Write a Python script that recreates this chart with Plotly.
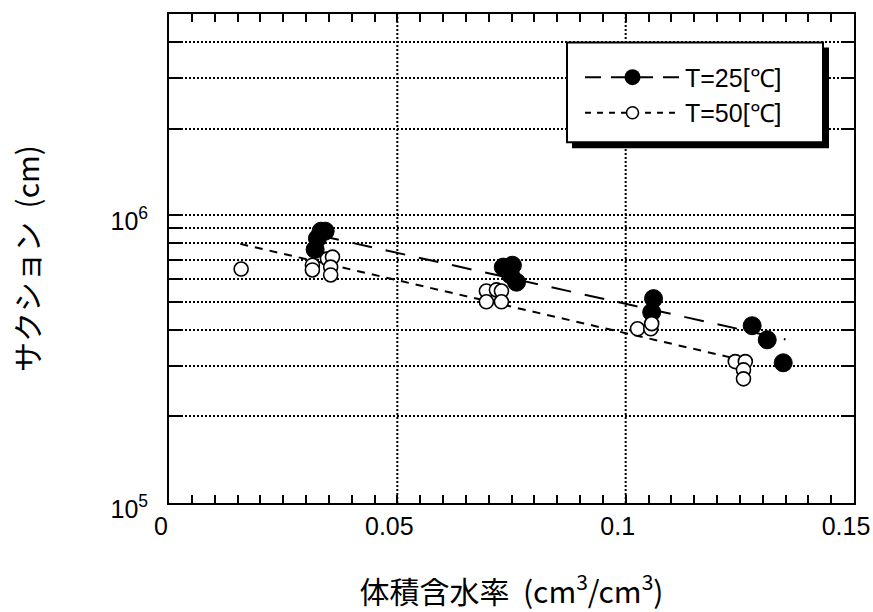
import plotly.graph_objects as go

# ---- data ----
t25_x = [0.0320, 0.0325, 0.0333, 0.0342, 0.0732, 0.0752, 0.0761, 0.0748,
         0.1057, 0.1061, 0.1277, 0.1310, 0.1345]
t25_y = [7.6e5, 8.3e5, 8.8e5, 8.8e5, 6.6e5, 6.7e5, 5.85e5, 6.2e5,
         4.6e5, 5.13e5, 4.13e5, 3.69e5, 3.07e5]

t50_x = [0.0158, 0.0314, 0.0314, 0.0347, 0.0358, 0.0354, 0.0354,
         0.0695, 0.0695, 0.0717, 0.0728, 0.0728,
         0.1026, 0.1055, 0.1057, 0.1240, 0.1262, 0.1258, 0.1258]
t50_y = [6.5e5, 6.7e5, 6.45e5, 7.05e5, 7.15e5, 6.6e5, 6.2e5,
         5.45e5, 5.0e5, 5.5e5, 5.45e5, 5.0e5,
         4.03e5, 4.03e5, 4.2e5, 3.1e5, 3.1e5, 2.9e5, 2.7e5]

fit25_x = [0.0329, 0.135]
fit25_y = [8.5e5, 3.7e5]
fit50_x = [0.0156, 0.125]
fit50_y = [7.95e5, 3.15e5]

PAD = "\u00a0\u00a0"

# labelled x ticks (with vertical grid at the interior ones)
x_ticks = [0, 0.05, 0.1, 0.15]
x_ticktext = ["0", "0.05", "0.1", "0.15"]
x_grid = [0.05, 0.1]
# small tick marks every 0.005
x_small_ticks = [round(i * 0.005, 3) for i in range(31)]

# y ticks / grid at every 1-9 x decade, labelled at decades
y_ticks = [1e5, 2e5, 3e5, 4e5, 5e5, 6e5, 7e5, 8e5, 9e5, 1e6, 2e6, 3e6, 4e6]
y_labels = {1e5: "10<sup>5</sup>", 1e6: "10<sup>6</sup>"}
y_ticktext = [y_labels[v] + PAD if v in y_labels else "" for v in y_ticks]

labels = ["T=25[℃]", "T=50[℃]"]

FONT = "Liberation Sans"
CJK = "Noto Sans CJK JP"

fig = go.Figure()

fig.add_trace(go.Scatter(x=fit25_x, y=fit25_y, mode="lines", showlegend=False,
                         line=dict(color="black", width=2, dash="20px,14px")))
fig.add_trace(go.Scatter(x=fit50_x, y=fit50_y, mode="lines", showlegend=False,
                         line=dict(color="black", width=2, dash="8px,7px")))

fig.add_trace(go.Scatter(x=t25_x, y=t25_y, mode="markers", name=labels[0],
                         showlegend=False,
                         marker=dict(symbol="circle", size=18, color="black",
                                     line=dict(color="black", width=1))))
fig.add_trace(go.Scatter(x=t50_x, y=t50_y, mode="markers", name=labels[1],
                         showlegend=False,
                         marker=dict(symbol="circle", size=14, color="white",
                                     line=dict(color="black", width=1.6))))

# legend entries (no data), placed on the overlay axes that draw tick marks
fig.add_trace(go.Scatter(x=[None], y=[None], mode="lines+markers", name=labels[0],
                         xaxis="x2", yaxis="y2",
                         line=dict(color="black", width=2, dash="16px,10px"),
                         marker=dict(symbol="circle", size=18, color="black")))
fig.add_trace(go.Scatter(x=[None], y=[None], mode="lines+markers", name=labels[1],
                         xaxis="x2", yaxis="y2",
                         line=dict(color="black", width=2, dash="6px,6px"),
                         marker=dict(symbol="circle", size=12, color="white",
                                     line=dict(color="black", width=1.6))))

L, R, T, B = 169, 854, 13.5, 503
W, H = 873, 612


def px(xp):
    return (xp - L) / (R - L)


def py(yp):
    return 1 - (yp - T) / (B - T)


shapes = []
for gx in x_grid:
    shapes.append(dict(type="line", xref="x", yref="paper", layer="below",
                       x0=gx, x1=gx, y0=0, y1=1,
                       line=dict(color="black", width=2, dash="2px,2px")))
shapes += [
    dict(type="rect", xref="paper", yref="paper", layer="above",
         x0=px(572), x1=px(829), y0=py(148), y1=py(47),
         fillcolor="black", line=dict(width=0)),
    dict(type="rect", xref="paper", yref="paper", layer="above",
         x0=px(567), x1=px(823), y0=py(142), y1=py(42),
         fillcolor="white", line=dict(color="black", width=2)),
]

fig.update_layout(
    width=W, height=H,
    margin=dict(l=L, r=W - R, t=T, b=H - B, autoexpand=False),
    paper_bgcolor="white", plot_bgcolor="white",
    font=dict(family=FONT, color="black", size=25),
    showlegend=True,
    shapes=shapes,
    legend=dict(
        x=px(580), y=py(54),
        xanchor="left", yanchor="top",
        bgcolor="rgba(0,0,0,0)", borderwidth=0,
        font=dict(family=FONT, size=25, color="black"),
        itemwidth=95, tracegroupgap=0,
    ),
    xaxis=dict(
        range=[0, 0.15],
        tickmode="array", tickvals=x_ticks, ticktext=x_ticktext,
        ticks="", showline=True, linecolor="black", linewidth=2, mirror=True,
        showgrid=False, zeroline=False, ticklabeloverflow="allow",
        tickfont=dict(family=FONT, size=25, color="black"),
        ticklabelshift=-8,
        title=dict(text="体積含水率  (cm<sup>3</sup>/cm<sup>3</sup>)",
                   font=dict(family=CJK, size=30, color="black"), standoff=46),
        automargin=False,
    ),
    yaxis=dict(
        type="log", range=[5, 6.69897],
        tickmode="array", tickvals=y_ticks, ticktext=y_ticktext,
        ticks="", showline=True, linecolor="black", linewidth=2, mirror=True,
        showgrid=True, gridcolor="black", gridwidth=2, griddash="2px,2px",
        zeroline=False, ticklabeloverflow="allow",
        tickfont=dict(family=FONT, size=25, color="black"),
        ticklabelshift=6,
        title=dict(text="サクション  (cm)",
                   font=dict(family=CJK, size=30, color="black"), standoff=62),
        automargin=False,
    ),
    # overlay axes that only draw the inward tick marks (mirrored)
    xaxis2=dict(
        overlaying="x", anchor="y2", side="bottom", range=[0, 0.15],
        tickmode="array", tickvals=x_small_ticks, showticklabels=False,
        ticks="inside", ticklen=8, tickwidth=2, tickcolor="black",
        showline=False, mirror="ticks", showgrid=False, zeroline=False,
        automargin=False,
    ),
    yaxis2=dict(
        overlaying="y", anchor="x2", side="left", type="log",
        range=[5, 6.69897],
        tickmode="array", tickvals=y_ticks, showticklabels=False,
        ticks="inside", ticklen=13, tickwidth=2, tickcolor="black",
        showline=False, mirror="ticks", showgrid=False, zeroline=False,
        automargin=False,
    ),
)

fig.write_html("out.html")
